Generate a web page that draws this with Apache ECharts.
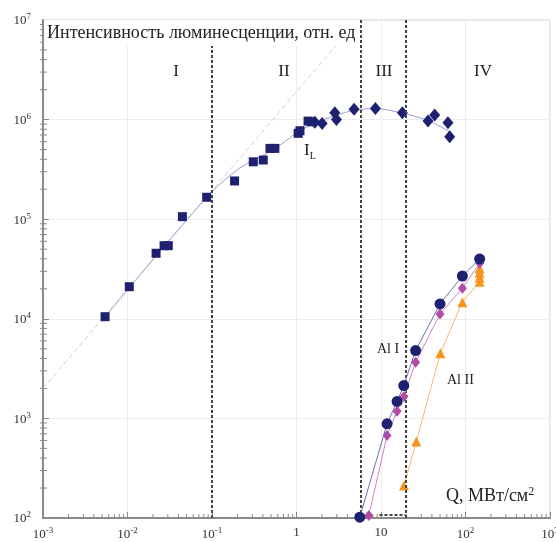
<!DOCTYPE html>
<html>
<head>
<meta charset="utf-8">
<script src="https://cdn.jsdelivr.net/npm/echarts@6/dist/echarts.min.js"></script>
<style>
  html, body { margin: 0; background: #fff; }
  #chart { width: 556px; height: 542px; }
</style>
</head>
<body>
<div id="chart"></div>
<script>
// I_L, квадраты (области I-II)
const ilSquares = [
  [0.00543, 1.05e4], [0.0105, 2.1e4], [0.0218, 4.55e4], [0.0271, 5.42e4], [0.0304, 5.42e4],
  [0.0446, 1.06e5], [0.0865, 1.66e5], [0.185, 2.42e5], [0.308, 3.77e5], [0.404, 3.93e5],
  [0.485, 5.14e5], [0.555, 5.14e5], [1.046, 7.28e5], [1.10, 7.73e5], [1.37, 9.66e5], [1.51, 9.5e5]
];
// I_L, ромбы (области II-IV)
const ilDiamonds = [
  [1.65, 9.4e5], [2.01, 9.16e5], [2.84, 1.17e6], [2.97, 1.0e6], [4.8, 1.27e6], [8.59, 1.29e6],
  [17.9, 1.17e6], [36, 9.66e5], [43.2, 1.11e6], [62, 9.3e5], [65, 6.71e5]
];
// сглаживающая кривая через I_L
const ilFit = [
  [0.00543, 1.05e4], [0.0865, 1.66e5], [0.214, 3.27e5], [0.526, 4.94e5], [1.04, 7.5e5],
  [1.65, 9.2e5], [2.9, 1.1e6], [4.8, 1.24e6], [8.6, 1.29e6], [18, 1.16e6], [36, 9.8e5], [65, 7.55e5]
];
// прямая наклона ~1
const slopeLine = [[0.001, 2000], [5.32, 1e7]];
// Al I (круги и ромбы), Al II (треугольники)
const alCircles = [
  [5.61, 102], [11.8, 883], [15.5, 1479], [18.6, 2138], [25.7, 4800], [49.9, 1.41e4], [91.8, 2.69e4], [147, 3.99e4]
];
const alDiamonds = [
  [7.17, 106], [11.8, 673], [15.5, 1183], [18.7, 1660], [25.7, 3670], [49.9, 1.12e4], [91.8, 2.03e4], [147, 3.61e4]
];
const alTriangles = [
  [18.7, 212], [26.2, 587], [50.4, 4520], [91.8, 1.47e4], [147, 2.35e4], [147, 2.6e4], [147, 2.9e4], [147, 3.2e4]
];
// границы областей I-IV
const boundaries = [0.1, 5.7, 19.5];
const bottomDash = [[9.6, 107], [19.5, 107]];
const regionLabels = ['I', 'II', 'III', 'IV'];

const serif = '"Liberation Serif", "DejaVu Serif", serif';
const navy = '#1e2170';

// малые деления логарифмических осей
const minorX = [];
for (let d = -3; d < 3; d++) for (let k = 2; k <= 9; k++) minorX.push([k * Math.pow(10, d), 100]);
const minorY = [];
for (let d = 2; d < 7; d++) for (let k = 2; k <= 9; k++) minorY.push([0.001, k * Math.pow(10, d)]);

function powLabel(v) {
  const e = Math.round(Math.log10(v));
  if (e === 0) return '{b|1}';
  if (e === 1) return '{b|10}';
  return '{b|10}{s|' + e + '}';
}
const labelRich = {
  b: { fontSize: 13, fontFamily: serif, color: '#333', verticalAlign: 'bottom' },
  s: { fontSize: 9, fontFamily: serif, color: '#333', verticalAlign: 'top', padding: [0, 0, 6, 0] }
};

const chart = echarts.init(document.getElementById('chart'));
chart.setOption({
  animation: false,
  grid: {
    left: 43, right: 6, top: 20, bottom: 24, containLabel: false, outerBoundsMode: 'none',
    show: true, borderColor: '#c8c8c8', borderWidth: 1
  },
  xAxis: {
    type: 'log', logBase: 10, min: 0.001, max: 1000, splitNumber: 6,
    axisLine: { show: true, onZero: false, lineStyle: { color: '#8a8a8a', width: 2 } },
    axisTick: { show: true, inside: true, length: 6, lineStyle: { color: '#8a8a8a' } },
    splitLine: { show: true, lineStyle: { color: '#ececec' } },
    axisLabel: { formatter: powLabel, rich: labelRich, margin: 8 }
  },
  yAxis: {
    type: 'log', logBase: 10, min: 100, max: 1e7, splitNumber: 5,
    axisLine: { show: true, onZero: false, lineStyle: { color: '#8a8a8a', width: 2 } },
    axisTick: { show: true, inside: true, length: 6, lineStyle: { color: '#8a8a8a' } },
    splitLine: { show: true, lineStyle: { color: '#ececec' } },
    axisLabel: { formatter: powLabel, rich: labelRich, margin: 12 }
  },
  series: [
    {
      type: 'custom', silent: true, clip: false, z: 3, data: minorX,
      renderItem: function (params, api) {
        const p = api.coord([api.value(0), api.value(1)]);
        return { type: 'line', shape: { x1: p[0], y1: p[1], x2: p[0], y2: p[1] - 4 }, style: { stroke: '#8a8a8a', lineWidth: 1 } };
      }
    },
    {
      type: 'custom', silent: true, clip: false, z: 3, data: minorY,
      renderItem: function (params, api) {
        const p = api.coord([api.value(0), api.value(1)]);
        return { type: 'line', shape: { x1: p[0] - 3, y1: p[1], x2: p[0] + 4, y2: p[1] }, style: { stroke: '#8a8a8a', lineWidth: 1 } };
      }
    },
    {
      type: 'line', data: slopeLine, symbol: 'none', z: 1,
      lineStyle: { color: '#cfcfcf', width: 1, type: [5, 3] }
    },
    {
      type: 'line', data: [], z: 1,
      markLine: {
        silent: true, symbol: 'none', label: { show: false },
        lineStyle: { color: '#444', width: 2, type: [3, 2] },
        data: boundaries.map(v => ({ xAxis: v }))
      }
    },
    {
      type: 'line', data: bottomDash, symbol: 'none', z: 1,
      lineStyle: { color: '#444', width: 2, type: [3, 2] }
    },
    {
      type: 'line', data: ilFit, symbol: 'none', smooth: 0.3, z: 2,
      lineStyle: { color: '#9a9ccc', width: 1 }
    },
    {
      type: 'scatter', data: ilSquares, symbol: 'rect', symbolSize: 9, z: 4,
      itemStyle: { color: navy, opacity: 1 }
    },
    {
      type: 'scatter', data: ilDiamonds, symbol: 'diamond', symbolSize: [11, 13], z: 4,
      itemStyle: { color: navy, opacity: 1 }
    },
    {
      type: 'line', data: alTriangles, symbol: 'triangle', symbolSize: 10, z: 4,
      itemStyle: { color: '#f7941d' }, lineStyle: { color: '#f7b870', width: 1 }
    },
    {
      type: 'line', data: alDiamonds, symbol: 'diamond', symbolSize: [9, 11], z: 5,
      itemStyle: { color: '#b24ba6' }, lineStyle: { color: '#cc85c4', width: 1 }
    },
    {
      type: 'line', data: alCircles, symbol: 'circle', symbolSize: 11, z: 6,
      itemStyle: { color: navy }, lineStyle: { color: '#6d70b0', width: 1 }
    }
  ],
  graphic: [
    {
      type: 'text', left: 44, top: 20, z: 100,
      style: {
        text: 'Интенсивность люминесценции, отн. ед', font: '18px ' + serif, fill: '#222',
        backgroundColor: '#fff', padding: [4, 4, 4, 3]
      }
    },
    { type: 'text', x: 176, y: 72, z: 100, style: { text: regionLabels[0], font: '17px ' + serif, fill: '#222', align: 'center', verticalAlign: 'middle' } },
    { type: 'text', x: 284, y: 72, z: 100, style: { text: regionLabels[1], font: '17px ' + serif, fill: '#222', align: 'center', verticalAlign: 'middle' } },
    { type: 'text', x: 384, y: 72, z: 100, style: { text: regionLabels[2], font: '17px ' + serif, fill: '#222', align: 'center', verticalAlign: 'middle' } },
    { type: 'text', x: 483, y: 72, z: 100, style: { text: regionLabels[3], font: '17px ' + serif, fill: '#222', align: 'center', verticalAlign: 'middle' } },
    {
      type: 'text', x: 304, y: 142, z: 100,
      style: {
        text: '{m|I}{l|L}', fill: '#222',
        rich: {
          m: { fontSize: 17, fontFamily: serif, fill: '#222', verticalAlign: 'top' },
          l: { fontSize: 10, fontFamily: serif, fill: '#222', verticalAlign: 'bottom', padding: [9, 0, 0, 0] }
        }
      }
    },
    { type: 'text', x: 377, y: 349, z: 100, style: { text: 'Al I', font: '14px ' + serif, fill: '#222', verticalAlign: 'middle' } },
    { type: 'text', x: 447, y: 380, z: 100, style: { text: 'Al II', font: '14px ' + serif, fill: '#222', verticalAlign: 'middle' } },
    {
      type: 'text', x: 446, y: 486, z: 100,
      style: {
        text: '{q|Q, МВт/см}{s|2}',
        rich: {
          q: { fontSize: 18, fontFamily: serif, fill: '#222', verticalAlign: 'bottom' },
          s: { fontSize: 12, fontFamily: serif, fill: '#222', verticalAlign: 'top', padding: [0, 0, 7, 0] }
        }
      }
    }
  ]
});
</script>
</body>
</html>
